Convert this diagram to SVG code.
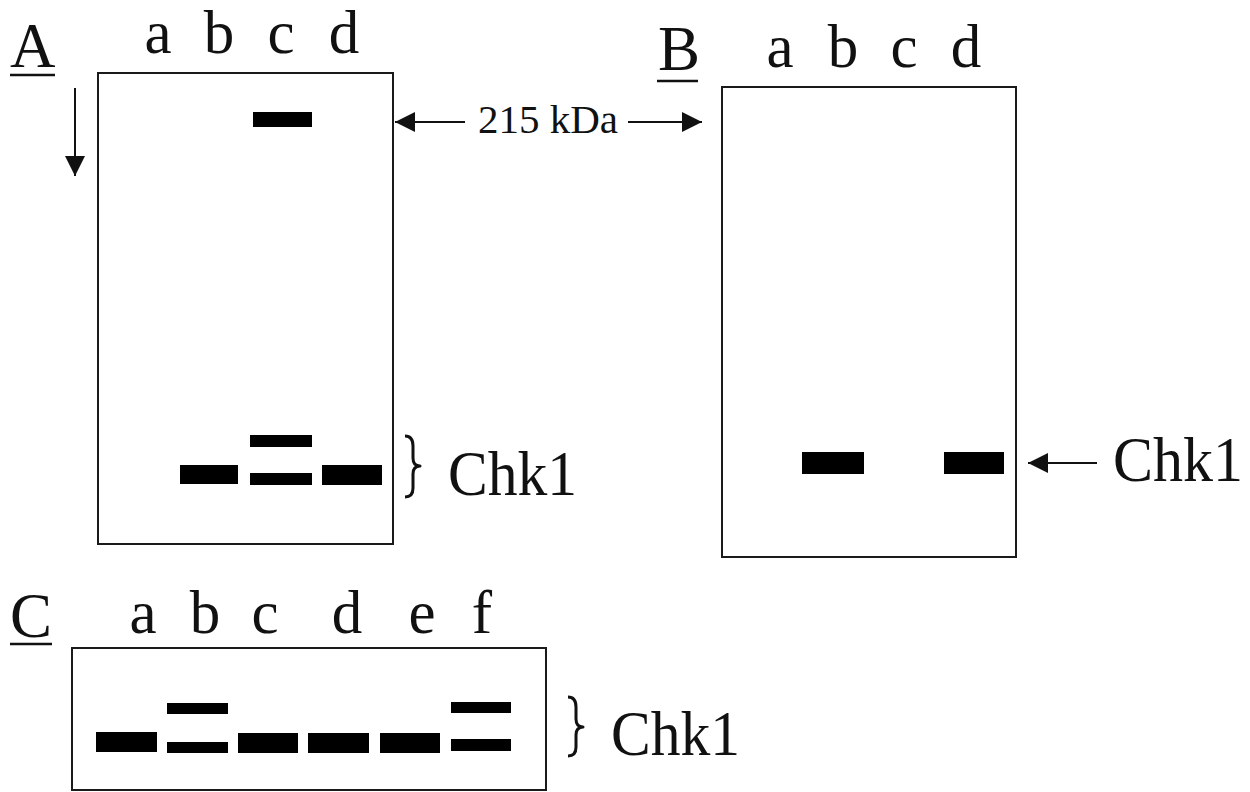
<svg xmlns="http://www.w3.org/2000/svg" width="1250" height="792" viewBox="0 0 1250 792">
<style>
.t{font-family:'Liberation Serif','DejaVu Serif','Times New Roman',serif;fill:#111}
.lane{font-size:61px;text-anchor:middle}
.pl{font-size:63px}
.gel{fill:none;stroke:#1a1a1a;stroke-width:2}
.band{fill:#000}
.ln{stroke:#111;stroke-width:2;fill:none}
.ul{stroke:#111;stroke-width:2.5}
.brace{fill:none;stroke:#111;stroke-width:3;stroke-linejoin:round}
</style>
<defs>
<marker id="ah" viewBox="0 0 20 20" refX="20" refY="10" markerWidth="20" markerHeight="20" markerUnits="userSpaceOnUse" orient="auto">
<path d="M0,0 L20,10 L0,20 Z" fill="#111"/>
</marker>
</defs>
<rect width="1250" height="792" fill="#fff"/>

<g id="panelA" font-family="Liberation Serif, DejaVu Serif, serif">
<text class="t pl" x="10" y="67">A</text>
<line class="ul" x1="10" y1="75" x2="55" y2="75"/>
<text class="t lane" x="158" y="53">a</text>
<text class="t lane" x="219" y="53">b</text>
<text class="t lane" x="281" y="53">c</text>
<text class="t lane" x="344" y="53">d</text>
<rect class="gel" x="98" y="73" width="295" height="471"/>
<rect class="band" x="253" y="112" width="59" height="15"/>
<rect class="band" x="180" y="465" width="58" height="19"/>
<rect class="band" x="250" y="435" width="62" height="12"/>
<rect class="band" x="250" y="473" width="62" height="12"/>
<rect class="band" x="322" y="465" width="60" height="20"/>
<path class="brace" d="M405,436 Q413,436 413,446 L413,458 Q413,466 420,466 Q413,466 413,474 L413,488 Q413,497 405,497"/>
<text class="t pl" x="448" y="495" textLength="129" lengthAdjust="spacingAndGlyphs">Chk1</text>
</g>

<g id="panelB" font-family="Liberation Serif, DejaVu Serif, serif">
<text class="t pl" x="658" y="70">B</text>
<line class="ul" x1="657" y1="81" x2="698" y2="81"/>
<text class="t lane" x="780" y="67">a</text>
<text class="t lane" x="843" y="67">b</text>
<text class="t lane" x="904" y="67">c</text>
<text class="t lane" x="966" y="67">d</text>
<rect class="gel" x="722" y="87" width="294" height="470"/>
<rect class="band" x="802" y="452" width="62" height="22"/>
<rect class="band" x="944" y="452" width="60" height="22"/>
<text class="t pl" x="1113" y="481" textLength="130" lengthAdjust="spacingAndGlyphs">Chk1</text>
</g>

<g id="panelC" font-family="Liberation Serif, DejaVu Serif, serif">
<text class="t pl" x="10" y="637">C</text>
<line class="ul" x1="10" y1="644" x2="52" y2="644"/>
<text class="t lane" x="143" y="633">a</text>
<text class="t lane" x="205" y="633">b</text>
<text class="t lane" x="265" y="633">c</text>
<text class="t lane" x="347" y="633">d</text>
<text class="t lane" x="422" y="633">e</text>
<text class="t lane" x="482" y="633">f</text>
<rect class="gel" x="72" y="648" width="474" height="142"/>
<rect class="band" x="96" y="732" width="61" height="20"/>
<rect class="band" x="167" y="703" width="61" height="11"/>
<rect class="band" x="167" y="742" width="61" height="11"/>
<rect class="band" x="238" y="733" width="60" height="20"/>
<rect class="band" x="308" y="733" width="61" height="20"/>
<rect class="band" x="380" y="733" width="60" height="20"/>
<rect class="band" x="451" y="702" width="60" height="11"/>
<rect class="band" x="451" y="739" width="60" height="12"/>
<path class="brace" d="M568,697 Q576,697 576,707 L576,719 Q576,727 583,727 Q576,727 576,735 L576,747 Q576,756 568,756"/>
<text class="t pl" x="611" y="755" textLength="129" lengthAdjust="spacingAndGlyphs">Chk1</text>
</g>

<g id="marker215" font-family="Liberation Serif, DejaVu Serif, serif">
<text class="t" x="478" y="133" font-size="41" textLength="140" lengthAdjust="spacingAndGlyphs">215 kDa</text>
</g>

<g id="connectors">
<line class="ln" x1="75" y1="88" x2="75" y2="176" marker-end="url(#ah)"/>
<line class="ln" x1="465" y1="122" x2="395" y2="122" marker-end="url(#ah)"/>
<line class="ln" x1="628" y1="122" x2="702" y2="122" marker-end="url(#ah)"/>
<line class="ln" x1="1097" y1="463" x2="1028" y2="463" marker-end="url(#ah)"/>
</g>
</svg>
